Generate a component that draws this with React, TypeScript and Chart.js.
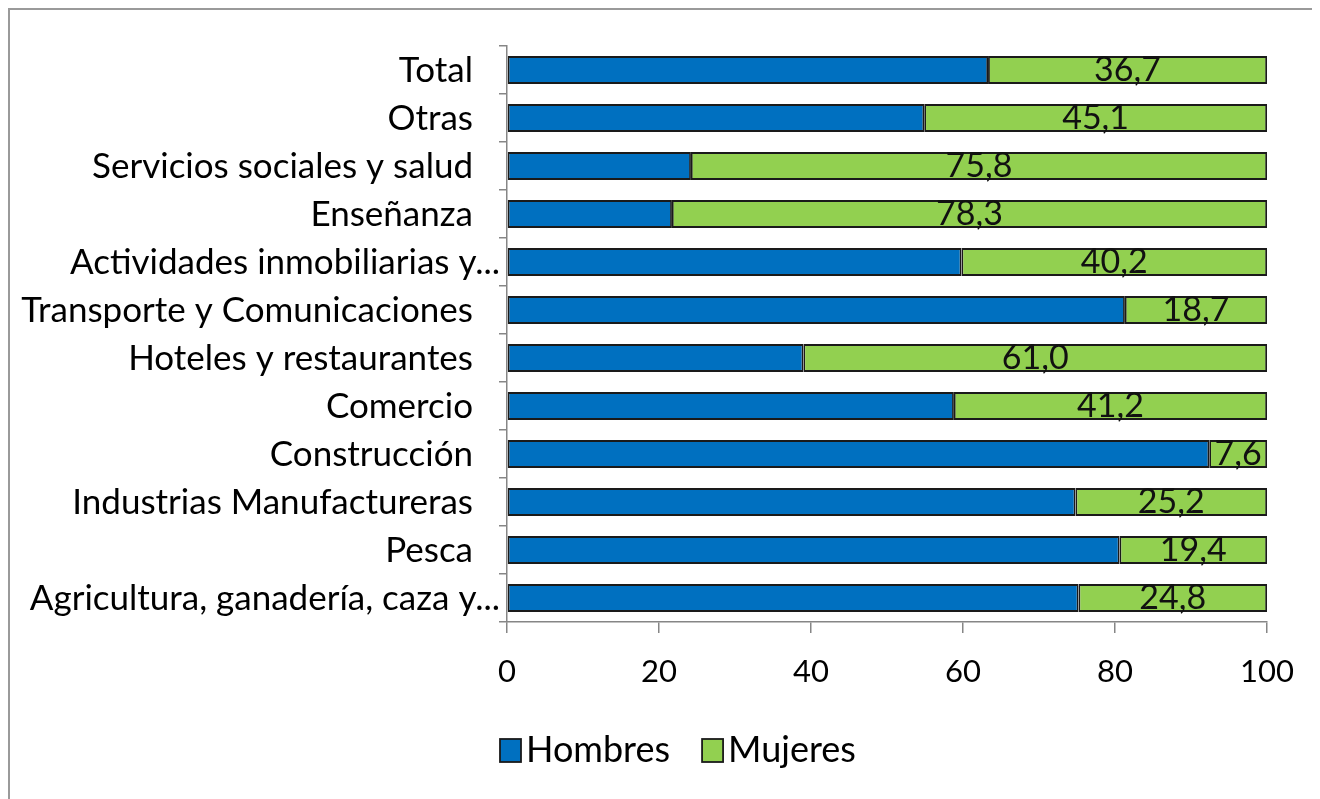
import React, { useEffect, useRef } from "react";
import { Chart, registerables } from "chart.js";

Chart.register(...registerables);

const categories = [
  "Total",
  "Otras",
  "Servicios sociales y salud",
  "Enseñanza",
  "Actividades inmobiliarias y...",
  "Transporte y Comunicaciones",
  "Hoteles y restaurantes",
  "Comercio",
  "Construcción",
  "Industrias Manufactureras",
  "Pesca",
  "Agricultura, ganadería, caza y...",
];

const hombres = [63.3, 54.9, 24.2, 21.7, 59.8, 81.3, 39.0, 58.8, 92.4, 74.8, 80.6, 75.2];
const mujeres = [36.7, 45.1, 75.8, 78.3, 40.2, 18.7, 61.0, 41.2, 7.6, 25.2, 19.4, 24.8];

const xTicks = [0, 20, 40, 60, 80, 100];

const seriesNames = ["Hombres", "Mujeres"];
const seriesColors = ["#0070C0", "#92D050"];

const FONT = "Lato, 'Open Sans', sans-serif";
const EDGE = "#1a1a1a";
const AXIS = "#868686";

const dataLabelPlugin = {
  id: "mujeresLabels",
  afterDatasetsDraw(chart: any) {
    const ctx = chart.ctx;
    const meta = chart.getDatasetMeta(1);
    ctx.save();
    ctx.fillStyle = "#111";
    ctx.font = `34px ${FONT}`;
    ctx.textAlign = "center";
    ctx.textBaseline = "alphabetic";
    meta.data.forEach((el: any, i: number) => {
      const v = mujeres[i];
      const cx = (el.x + el.base) / 2;
      ctx.fillText(v.toFixed(1).replace(".", ","), cx, el.y + 11);
    });
    ctx.restore();
  },
};

const categoryLabelPlugin = {
  id: "categoryLabels",
  afterDraw(chart: any) {
    const ctx = chart.ctx;
    const yScale = chart.scales.y;
    const left = chart.chartArea.left;
    ctx.save();
    ctx.fillStyle = "#000";
    ctx.font = `35px ${FONT}`;
    ctx.textAlign = "right";
    ctx.textBaseline = "middle";
    categories.forEach((c, i) => {
      const y = yScale.getPixelForTick(i);
      const right = c.endsWith("...") ? left - 7 : left - 34;
      ctx.fillText(c, right, y + 1);
    });
    ctx.restore();
  },
};

const legendPlugin = {
  id: "customLegend",
  afterDraw(chart: any) {
    const ctx = chart.ctx;
    ctx.save();
    ctx.font = `36px ${FONT}`;
    ctx.textAlign = "left";
    ctx.textBaseline = "alphabetic";
    let x = chart.chartArea.left - 7;
    const boxTop = chart.chartArea.bottom + 117;
    const baseline = boxTop + 23;
    seriesNames.forEach((name, i) => {
      ctx.fillStyle = seriesColors[i];
      ctx.fillRect(x, boxTop, 21, 23);
      ctx.strokeStyle = EDGE;
      ctx.lineWidth = 1.8;
      ctx.strokeRect(x, boxTop, 21, 23);
      ctx.fillStyle = "#000";
      ctx.fillText(name, x + 26, baseline);
      x += 26 + ctx.measureText(name).width + 32;
    });
    ctx.restore();
  },
};

export default function App() {
  const ref = useRef<HTMLCanvasElement | null>(null);
  useEffect(() => {
    document.body.style.overflow = "hidden";
    const chart = new Chart(ref.current as HTMLCanvasElement, {
      type: "bar",
      data: {
        labels: categories,
        datasets: [
          {
            label: seriesNames[0],
            data: hombres,
            backgroundColor: seriesColors[0],
            borderColor: EDGE,
            borderWidth: 1.8,
            borderSkipped: false,
            barPercentage: 0.58,
            categoryPercentage: 1,
          },
          {
            label: seriesNames[1],
            data: mujeres,
            backgroundColor: seriesColors[1],
            borderColor: EDGE,
            borderWidth: 1.8,
            borderSkipped: false,
            barPercentage: 0.58,
            categoryPercentage: 1,
          },
        ],
      },
      options: {
        indexAxis: "y",
        animation: false,
        responsive: false,
        maintainAspectRatio: false,
        layout: { padding: { top: 36, right: 53, bottom: 77, left: 0 } },
        plugins: {
          tooltip: { enabled: false },
          legend: { display: false },
        },
        scales: {
          x: {
            stacked: true,
            min: 0,
            max: 100,
            afterBuildTicks(scale: any) {
              scale.ticks = xTicks.map((v) => ({ value: v }));
            },
            afterFit(scale: any) {
              scale.height = 100;
            },
            grid: {
              drawOnChartArea: false,
              drawTicks: true,
              tickLength: 11,
              color: AXIS,
              lineWidth: 1.5,
            },
            border: { display: true, color: AXIS, width: 1.5 },
            ticks: {
              color: "#000",
              font: { family: FONT, size: 31 },
              padding: 20,
            },
          },
          y: {
            stacked: true,
            afterFit(scale: any) {
              scale.width = 497;
            },
            grid: {
              drawOnChartArea: false,
              drawTicks: true,
              tickLength: 8,
              color: AXIS,
              lineWidth: 1.5,
              offset: true,
            },
            border: { display: true, color: AXIS, width: 1.5 },
            ticks: {
              display: false,
              autoSkip: false,
            },
          },
        },
      },
      plugins: [dataLabelPlugin, categoryLabelPlugin, legendPlugin],
    } as any);
    return () => chart.destroy();
  }, []);

  return (
    <div
      style={{
        width: 1312,
        height: 791,
        boxSizing: "border-box",
        borderTop: "2px solid #9a9a9a",
        borderLeft: "2px solid #9a9a9a",
        background: "#fff",
      }}
    >
      <canvas ref={ref} width={1310} height={789} style={{ display: "block" }} />
    </div>
  );
}
